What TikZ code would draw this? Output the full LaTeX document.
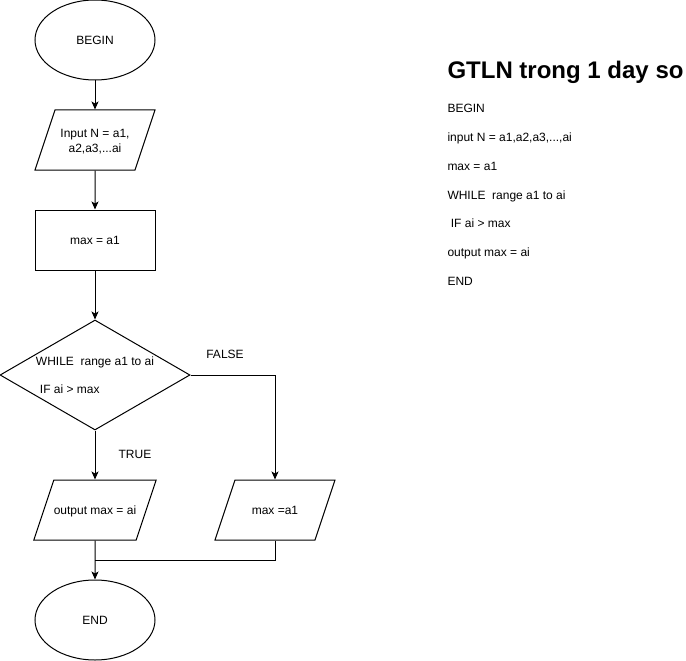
\documentclass[tikz,border=0pt]{standalone}
\usepackage{fontspec}
\setmainfont{Liberation Sans}
\usetikzlibrary{shapes.geometric,arrows.meta}

\begin{document}
\begin{tikzpicture}[x=1pt, y=-1pt, line width=1pt,
		font=\fontsize{12pt}{14.4pt}\selectfont,
		terminal/.style={ellipse,draw,minimum width=120pt,minimum height=80pt,inner sep=0pt},
		process/.style={rectangle,draw,minimum width=120pt,minimum height=60pt,inner sep=0pt},
		inout/.style={trapezium,draw,trapezium left angle=71.57,trapezium right angle=108.43,
			trapezium stretches body,minimum width=120pt,inner sep=0pt,
			text height=34.3pt,text depth=25.7pt},
		decision/.style={diamond,draw,aspect=1.727,minimum width=190pt,minimum height=110pt,inner sep=0pt},
		flow/.style={-{Stealth[length=8pt,width=7pt,inset=2pt]}}]
		% Page
		\path [fill=white] (0,0) rectangle (686,661);
		\useasboundingbox (0,0) rectangle (686,661);
		
		% Flowchart
		\node [terminal] (begin) at (95,40) {BEGIN};
		\node [inout, align=center, text height=42.3pt, text depth=17.7pt] (input) at (95,140)
			{Input N = a1,\\a2,a3,...ai};
		\node [process] (init) at (95,240) {max = a1};
		\node [decision, align=left] (loop) at (95,375)
			{WHILE\ \ range a1 to ai\\[14pt]\hspace{4pt}IF ai > max};
		\node [inout] (output) at (95,510) {output max = ai};
		\node [inout] (keep) at (275,510) {max =a1};
		\node [terminal] (end) at (95,620) {END};
		\coordinate (join) at (95,560);
		
		% Branch names
		\node (false) at (225,354) {FALSE};
		\node (true) at (135,454) {TRUE};
		
		% Arrows
		\begin{scope}[every path/.style={flow}]
			\draw (begin) -- (input);
			\draw (input) -- (init);
			\draw (init) -- (loop);
			\draw (loop) -- (output);
			\draw (loop) -| (keep);
			\draw (output) -- (end);
		\end{scope}
		\draw (keep) |- (join);
		
		% Pseudo code
		\node [anchor=base west, inner sep=0pt, font=\fontsize{24pt}{28pt}\selectfont\bfseries] (title) at (447,79) {GTLN trong 1 day so};
		\begin{scope}[every node/.style={anchor=base west, inner sep=0pt}]
			\node (c1) at (447,112.5) {BEGIN};
			\node (c2) at (447,141.5) {input N = a1,a2,a3,...,ai};
			\node (c3) at (447,170.5) {max = a1};
			\node (c4) at (447,199.5) {WHILE\ \ range a1 to ai};
			\node (c5) at (447,227.5) {\ IF ai > max};
			\node (c6) at (447,256.5) {output max = ai};
			\node (c7) at (447,285.5) {END};
		\end{scope}
	\end{tikzpicture}
\end{document}
